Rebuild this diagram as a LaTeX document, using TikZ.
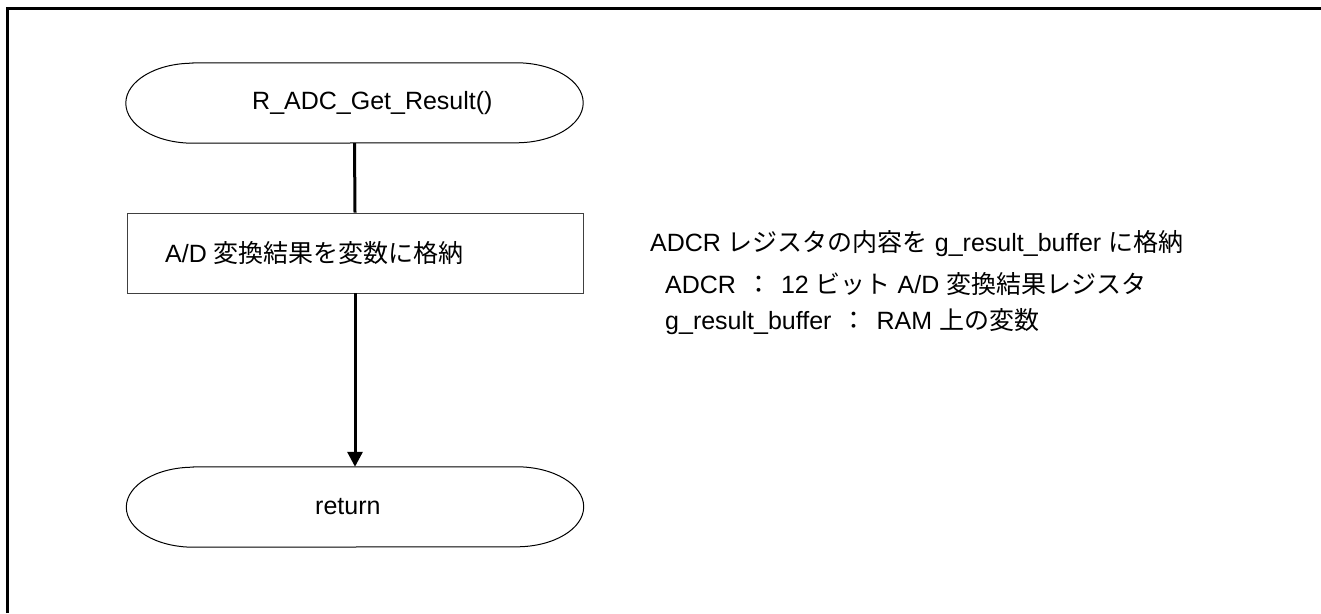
\documentclass[tikz,border=0pt]{standalone}
\usepackage{fontspec}
\setmainfont{Liberation Sans}
\newfontfamily\jp{Noto Sans CJK JP}
\usetikzlibrary{arrows.meta}
\tikzset{
  term/.style={draw=none,minimum width=457pt,minimum height=80pt,inner sep=0pt},
  procbox/.style={draw=black!75,line width=0.9pt,minimum width=456pt,minimum height=80pt,inner sep=0pt},
  termline/.style={draw=black,line width=1pt},
  flow/.style={line width=3pt},
  flowarrow/.style={line width=3pt,-{Triangle[width=15pt,length=15pt]}},
  note/.style={anchor=west,inner sep=0pt},
  label/.style={anchor=west,inner sep=0pt},
  frame/.style={line width=3pt}
}
\newcommand\termshape[1]{%
  \draw[termline] ([xshift=67pt]#1.north west) -- ([xshift=-67pt]#1.north east)
    arc[start angle=90,end angle=-90,x radius=67pt,y radius=40pt]
    -- ([xshift=67pt]#1.south west)
    arc[start angle=270,end angle=90,x radius=67pt,y radius=40pt] -- cycle;}
\newcommand\jcolon{\hspace{10pt}{\jp ：}\hspace{10pt}}
\begin{document}
\begin{tikzpicture}[x=1pt,y=1pt,font=\fontsize{25}{30}\selectfont]
\useasboundingbox (0,0) rectangle (1321,613);
\coordinate (fa) at (7.5,0);
\coordinate (fb) at (7.5,604);
\coordinate (fc) at (1321,604);
\draw[frame] (fa) -- (fb) -- (fc);
\node[term] (start) at (354.5,510) {};
\termshape{start}
\node[label] (starttxt) at (252,510) {R\_ADC\_Get\_Result()};
\node[procbox] (proc) at (355,360) {};
\node[label] (proctxt) at (165,360) {A/D {\jp 変換結果を変数に格納}};
\node[term] (end) at (355,106) {};
\termshape{end}
\node[label] (endtxt) at (315,106) {return};
\draw[flow] (start.south) -- (proc.north);
\draw[flowarrow] (proc.south) -- (end.north);
\node[note] (n1) at (650,369) {ADCR {\jp レジスタの内容を} g\_result\_buffer {\jp に格納}};
\node[note] (n2) at (665,329) {ADCR\jcolon 12 {\jp ビット} A/D {\jp 変換結果レジスタ}};
\node[note] (n3) at (665,291) {g\_result\_buffer\jcolon RAM {\jp 上の変数}};
\end{tikzpicture}
\end{document}
